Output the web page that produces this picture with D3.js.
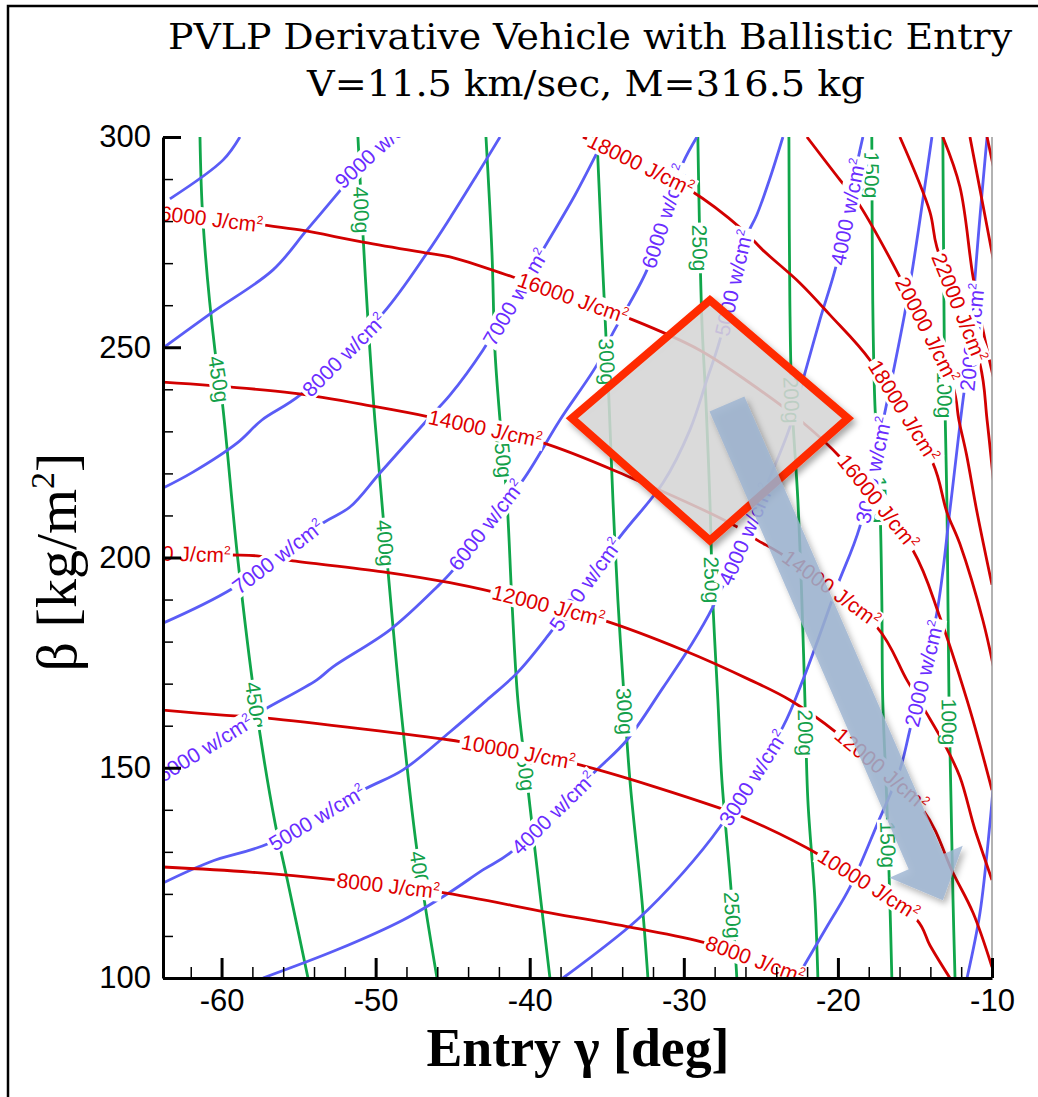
<!DOCTYPE html>
<html>
<head>
<meta charset="utf-8">
<script src="https://cdn.jsdelivr.net/npm/d3@7"></script>
<style>
  body { margin: 0; background: #fff; }
  svg { display: block; }
</style>
</head>
<body>
<svg id="chart" width="1038" height="1097"></svg>
<script>
// ---- data (gamma [deg], beta [kg/m2]) ----
var titleLines = ["PVLP Derivative Vehicle with Ballistic Entry", "V=11.5 km/sec, M=316.5 kg"];

var xMajor = [-60, -50, -40, -30, -20, -10];
var yMajor = [100, 150, 200, 250, 300];

// deceleration contours (g)
var gLevels = [450, 400, 350, 300, 250, 200, 150, 100];
var gLines = [
  [[-61.40,300],[-61.21,280.3],[-60.43,249.3],[-59.97,237.5],[-58.94,199.4],[-57.83,166.1],[-56.53,136.9],[-55.73,123.3],[-54.39,100]],
  [[-51.15,300],[-50.82,276.7],[-50.50,256.5],[-50.05,232.7],[-49.26,199.4],[-48.42,166.1],[-47.32,130.4],[-46.02,100]],
  [[-42.84,300],[-42.45,272.4],[-42.26,249.3],[-41.93,232.7],[-41.48,213.7],[-41.16,189.9],[-40.77,166.1],[-40.18,147.1],[-39.66,130.4],[-38.69,100]],
  [[-35.64,300],[-35.31,272.4],[-34.86,237.5],[-34.60,213.7],[-34.28,189.9],[-33.95,170.9],[-33.50,147.1],[-32.72,118.5],[-32.33,100]],
  [[-29.09,300],[-28.83,256.5],[-28.57,237.5],[-28.31,213.7],[-28.12,189.9],[-27.79,166.1],[-27.53,147.1],[-26.88,118.5],[-26.56,100]],
  [[-23.18,300],[-23.12,261.2],[-22.99,237.5],[-22.60,213.7],[-22.34,189.9],[-22.14,166.1],[-21.95,142.3],[-21.49,118.5],[-21.30,100]],
  [[-17.80,300],[-17.74,261.2],[-17.61,237.5],[-17.28,213.7],[-17.15,189.9],[-17.09,166.1],[-16.83,142.3],[-16.63,118.5],[-16.50,100]],
  [[-13.19,300],[-13.12,261.2],[-13.06,237.5],[-12.93,213.7],[-12.86,189.9],[-12.79,166.1],[-12.66,142.3],[-12.53,118.5],[-12.40,100]]
];
var gLabelAt = [
  [[-60.37,242.2],[-57.83,164.9]],
  [[-51.02,282.6],[-49.46,203.4],[-47.25,124.5]],
  [[-42.06,224.4],[-40.51,150.0]],
  [[-35.12,246.5],[-34.02,163.3]],
  [[-28.96,273.6],[-28.31,194.6],[-26.80,115.0]],
  [[-22.83,237.5],[-22.05,158.3]],
  [[-17.74,291.0],[-17.35,213.7],[-17.02,131.6]],
  [[-13.38,238.6],[-13.06,160.9]]
];

// peak heat flux contours (w/cm2)
var qLevels = [10000, 9000, 8000, 7000, 6000, 5000, 4000, 3000, 2000, 1000];
var qLines = [
  [[-63.35,285.3],[-59.91,294.5],[-58.81,300]],
  [[-63.80,249.8],[-60.56,258.4],[-56.66,268.4],[-54.46,277.9],[-52.12,288.1],[-50.69,294.5],[-49.07,300]],
  [[-63.80,216.5],[-61.86,220.3],[-59.00,227.2],[-57.38,232.7],[-54.91,238.6],[-49.52,258.1],[-46.67,272.4],[-45.18,280.7],[-43.56,290.2],[-41.93,300]],
  [[-63.80,184.4],[-59.26,192.7],[-53.42,208.2],[-51.67,212.0],[-49.72,220.1],[-46.48,233.4],[-45.18,238.6],[-43.04,249.3],[-38.88,274.8],[-37.06,286.2],[-35.64,296.2],[-35.12,300]],
  [[-63.80,149.0],[-61.08,154.7],[-58.35,161.4],[-57.05,164.2],[-53.81,170.9],[-52.77,174.0],[-49.07,182.8],[-46.02,193.0],[-44.98,197.0],[-42.84,207.7],[-40.44,218.4],[-38.04,232.7],[-35.64,245.8],[-34.60,253.4],[-32.39,268.4],[-31.23,281.5],[-30.06,293.8],[-29.15,300]],
  [[-63.80,122.6],[-60.75,127.6],[-56.86,132.1],[-50.82,144.7],[-48.22,149.5],[-45.18,158.5],[-42.78,166.1],[-40.83,172.5],[-38.88,181.1],[-34.15,204.9],[-31.36,217.7],[-29.61,230.3],[-28.51,242.2],[-27.66,251.7],[-26.04,275.5],[-25.26,281.5],[-24.41,290.2],[-23.57,300]],
  [[-57.31,100],[-52.51,106.7],[-48.22,113.8],[-45.18,120.4],[-43.04,125.7],[-41.29,129.7],[-35.64,149.5],[-33.69,156.6],[-31.36,169.0],[-29.61,178.7],[-28.12,188.2],[-24.41,219.1],[-23.12,231.0],[-22.27,242.2],[-21.17,256.5],[-20.07,270.0],[-18.71,294.5],[-18.38,300]],
  [[-37.84,100],[-33.04,113.8],[-30.06,125.0],[-27.66,135.9],[-23.57,159.7],[-22.27,170.9],[-21.30,180.4],[-20.07,193.0],[-18.58,207.3],[-16.96,234.4],[-15.66,258.1],[-15.14,269.1],[-13.90,300]],
  [[-22.66,100],[-20.65,112.6],[-19.22,121.6],[-17.41,136.9],[-15.98,149.5],[-15.33,159.0],[-13.58,186.8],[-12.73,211.3],[-11.88,237.5],[-11.30,252.4],[-11.11,266.0],[-10.32,300]],
  [[-11.62,100],[-10.78,115.5],[-10.13,136.9],[-9.94,144.7]]
];
var qLabelAt = [
  [],
  [[-49.80,297.1]],
  [[-52.24,248.9]],
  [[-56.34,200.1],[-40.96,261.9]],
  [[-61.21,155.2],[-42.78,207.7],[-31.23,281.0]],
  [[-53.74,138.0],[-36.41,193.5],[-26.80,265.3]],
  [[-38.49,139.2],[-26.17,205.8],[-19.35,282.2]],
  [[-25.58,147.8],[-17.80,220.8]],
  [[-14.55,172.5],[-11.30,252.4]],
  []
];

// total heat load contours (J/cm2)
var hLevels = [8000, 10000, 12000, 14000, 16000, 18000, 20000, 22000, 24000, 26000, 28000];
var hLines = [
  [[-63.80,126.4],[-58.16,125.2],[-52.51,123.3],[-45.83,120.4],[-38.69,115.5],[-33.50,112.1],[-28.51,108.3],[-22.14,100]],
  [[-63.80,163.7],[-59.91,162.5],[-57.05,161.8],[-45.18,156.6],[-44.34,156.1],[-37.19,151.1],[-27.66,140.4],[-26.17,138.3],[-21.17,129.2],[-14.87,113.8],[-14.03,107.8],[-12.73,100]],
  [[-63.80,201.1],[-59.45,200.6],[-57.70,200.4],[-55.37,199.2],[-49.52,196.6],[-45.18,194.0],[-42.39,191.8],[-35.25,185.1],[-30.06,178.0],[-25.71,170.9],[-23.12,166.1],[-20.07,158.3],[-14.48,140.0],[-12.53,125.0],[-11.23,115.5],[-10.00,102.6]],
  [[-63.80,241.7],[-55.37,239.1],[-49.92,235.8],[-46.48,233.4],[-39.34,227.5],[-33.50,219.1],[-26.56,207.3],[-25.26,204.2],[-23.57,200.6],[-17.48,183.5],[-15.53,170.9],[-14.36,163.7],[-13.06,155.4],[-12.08,147.8],[-11.10,135.2],[-10.00,123.3]],
  [[-63.80,281.9],[-57.38,279.1],[-54.91,277.9],[-50.82,275.0],[-46.67,272.4],[-45.18,271.5],[-41.09,266.7],[-33.30,256.5],[-28.96,249.3],[-25.71,241.5],[-22.47,232.7],[-19.87,223.9],[-15.14,201.8],[-13.38,185.8],[-11.62,166.1],[-10.78,155.4],[-10.00,144.7]],
  [[-36.55,300],[-29.61,287.4],[-26.17,277.9],[-24.87,273.1],[-22.47,265.3],[-20.52,257.7],[-17.93,247.0],[-13.84,222.5],[-12.93,210.8],[-12.08,203.2],[-10.58,184.9],[-9.80,172.1]],
  [[-22.01,300],[-19.87,289.8],[-18.77,284.8],[-15.98,266.7],[-12.54,240.8],[-12.15,232.7],[-11.65,224.4],[-11.00,211.3],[-10.00,193.5]],
  [[-15.98,300],[-14.03,282.2],[-13.58,273.8],[-10.78,246.0],[-10.32,232.7],[-9.87,216.8]],
  [[-13.19,300],[-12.08,288.1],[-11.23,266.7],[-10.45,251.7],[-9.87,242.2]],
  [[-11.43,300],[-10.65,285.0],[-9.87,270.0]],
  [[-10.32,300],[-9.80,291.0]]
];
var hLabelAt = [
  [[-49.20,121.9],[-25.32,104.8]],
  [[-40.77,153.7],[-18.05,121.9]],
  [[-63.15,200.8],[-38.80,188.5],[-17.28,149.2]],
  [[-42.91,230.6],[-20.52,192.3]],
  [[-61.01,280.5],[-37.19,261.7],[-17.48,213.0]],
  [[-32.85,293.3],[-15.85,234.6]],
  [[-14.30,253.9]],
  [[-12.04,259.6]],
  [], [], []
];

// design box and trend arrow
var boxCorners = [[-28.31,261.2],[-19.35,233.1],[-28.31,204.05],[-37.27,233.1]];
var arrowFrom = [-27.20,236.5];
var arrowTo = [-13.19,118.5];

// ---- drawing ----
var svg = d3.select("#chart");
var pL = 163, pR = 992, pT = 137, pB = 978;

var x = d3.scaleLinear().domain([-63.8, -10]).range([pL, pR]);
var y = d3.scaleLinear().domain([100, 300]).range([pB, pT]);

var sans = '"Liberation Sans", Arial, Helvetica, sans-serif';
var serif = '"Liberation Serif", "Times New Roman", serif';

var defs = svg.append("defs");
defs.append("clipPath").attr("id", "plotClip")
  .append("rect").attr("x", pL).attr("y", pT)
  .attr("width", pR - pL).attr("height", pB - pT);
var shadow = defs.append("filter").attr("id", "shadow")
  .attr("x", "-20%").attr("y", "-20%").attr("width", "150%").attr("height", "150%");
shadow.append("feDropShadow").attr("dx", 3).attr("dy", 4)
  .attr("stdDeviation", 3).attr("flood-color", "#000").attr("flood-opacity", 0.35);

// outer frame (right and bottom edges fall outside the page)
svg.append("rect").attr("x", 8).attr("y", 6).attr("width", 1060).attr("height", 1200)
  .attr("fill", "none").attr("stroke", "#000").attr("stroke-width", 2.5);

// title
svg.append("text").attr("x", 590).attr("y", 49).attr("text-anchor", "middle")
  .style("font-family", '"DejaVu Serif Condensed", "DejaVu Serif", serif')
  .style("font-size", "35px")
  .attr("textLength", 844).attr("lengthAdjust", "spacingAndGlyphs")
  .text(titleLines[0]);
svg.append("text").attr("x", 586).attr("y", 96).attr("text-anchor", "middle")
  .style("font-family", '"DejaVu Serif Condensed", "DejaVu Serif", serif')
  .style("font-size", "35px")
  .attr("textLength", 558).attr("lengthAdjust", "spacingAndGlyphs")
  .text(titleLines[1]);

var linesLayer = svg.append("g").attr("clip-path", "url(#plotClip)");
var labelLayer = svg.append("g").attr("clip-path", "url(#plotClip)");

var line = d3.line()
  .x(d => x(d[0]))
  .y(d => y(d[1]))
  .curve(d3.curveCatmullRom.alpha(0.5));

function family(lines, color) {
  return lines.map(pts => linesLayer.append("path")
    .attr("d", line(pts))
    .attr("fill", "none")
    .attr("stroke", color)
    .attr("stroke-width", 2.8)
    .attr("stroke-linejoin", "round")
    .node());
}

var gPaths = family(gLines, "#10a64a");
var qPaths = family(qLines, "#5a5cf6");
var hPaths = family(hLines, "#d20000");

// labels sit on their line, turned with it, on a white box
function labels(paths, spots, texts, color, sup) {
  paths.forEach((node, i) => {
    if (!spots[i].length) return;
    var len = node.getTotalLength();
    var samples = d3.range(0, len, 1).map(l => {
      var p = node.getPointAtLength(l);
      return [l, p.x, p.y];
    });
    spots[i].forEach(s => {
      var px = x(s[0]), py = y(s[1]);
      var best = d3.least(samples, d => (d[1] - px) ** 2 + (d[2] - py) ** 2);
      var a = node.getPointAtLength(Math.max(0, best[0] - 8));
      var b = node.getPointAtLength(Math.min(len, best[0] + 8));
      var ang = Math.atan2(b.y - a.y, b.x - a.x) * 180 / Math.PI;
      if (ang > 91) ang -= 180;
      if (ang < -91) ang += 180;

      var g = labelLayer.append("g")
        .attr("transform", `translate(${best[1]},${best[2]}) rotate(${ang})`);
      var bg = g.append("rect").attr("fill", "#fff");
      var t = g.append("text")
        .attr("text-anchor", "middle")
        .attr("dy", "0.36em")
        .attr("fill", color)
        .style("font-family", sans)
        .style("font-size", "21px");
      t.append("tspan").text(texts[i]);
      if (sup) t.append("tspan").attr("font-size", 12).attr("dy", -8).text("2");
      var bb = t.node().getBBox();
      bg.attr("x", bb.x - 2).attr("y", bb.y + 1)
        .attr("width", bb.width + 4).attr("height", bb.height - 2);
    });
  });
}

labels(gPaths, gLabelAt, gLevels.map(v => v + "g"), "#13a04a", false);
labels(qPaths, qLabelAt, qLevels.map(v => v + " w/cm"), "#6a2cff", true);
labels(hPaths, hLabelAt, hLevels.map(v => v + " J/cm"), "#dd0000", true);

// design box
var boxLayer = svg.append("g");
boxLayer.append("polygon")
  .attr("points", boxCorners.map(d => [x(d[0]), y(d[1])].join(",")).join(" "))
  .attr("fill", "#dadada").attr("fill-opacity", 0.82)
  .attr("stroke", "#ff2a00").attr("stroke-width", 8)
  .attr("stroke-linejoin", "miter")
  .attr("filter", "url(#shadow)");

// arrow
var p0 = [x(arrowFrom[0]), y(arrowFrom[1])];
var p1 = [x(arrowTo[0]), y(arrowTo[1])];
var dx = p1[0] - p0[0], dy = p1[1] - p0[1];
var L = Math.hypot(dx, dy), ux = dx / L, uy = dy / L, nx = -uy, ny = ux;
var headLen = 42, shaftW = 38, headW = 80;
var bx = p1[0] - ux * headLen, by = p1[1] - uy * headLen;
var arrowPts = [
  [p0[0] + nx * shaftW / 2, p0[1] + ny * shaftW / 2],
  [bx + nx * shaftW / 2, by + ny * shaftW / 2],
  [bx + nx * headW / 2, by + ny * headW / 2],
  p1,
  [bx - nx * headW / 2, by - ny * headW / 2],
  [bx - nx * shaftW / 2, by - ny * shaftW / 2],
  [p0[0] - nx * shaftW / 2, p0[1] - ny * shaftW / 2]
];
boxLayer.append("polygon")
  .attr("points", arrowPts.map(d => d.join(",")).join(" "))
  .attr("fill", "#9db4d2").attr("fill-opacity", 0.82)
  .attr("filter", "url(#shadow)");

// axes
var yMinor = d3.range(100, 301, 10).filter(v => v % 50);
var xMinor = d3.range(-62, -10, 2).filter(v => v % 10);

svg.append("line").attr("x1", pR).attr("x2", pR).attr("y1", pT).attr("y2", pB)
  .attr("stroke", "#999").attr("stroke-width", 1.5);

var xMinorAxis = svg.append("g").attr("transform", `translate(0,${pB})`)
  .call(d3.axisBottom(x).tickValues(xMinor).tickSize(-11).tickFormat(""));
xMinorAxis.select(".domain").remove();
xMinorAxis.selectAll("line").attr("stroke-width", 1.5);

var xAxis = svg.append("g").attr("transform", `translate(0,${pB})`)
  .call(d3.axisBottom(x).tickValues(xMajor).tickSize(-20).tickSizeOuter(0).tickPadding(11)
    .tickFormat(d => String(d)));
xAxis.select(".domain").attr("stroke-width", 3);
xAxis.selectAll("line").attr("stroke-width", 3);
xAxis.selectAll("text").style("font-family", sans).style("font-size", "31px");

var yMinorAxis = svg.append("g").attr("transform", `translate(${pL},0)`)
  .call(d3.axisLeft(y).tickValues(yMinor).tickSize(-10).tickFormat(""));
yMinorAxis.select(".domain").remove();
yMinorAxis.selectAll("line").attr("stroke-width", 1.5);

var yAxis = svg.append("g").attr("transform", `translate(${pL},0)`)
  .call(d3.axisLeft(y).tickValues(yMajor).tickSize(-18).tickSizeOuter(0).tickPadding(12)
    .tickFormat(d => String(d)));
yAxis.select(".domain").attr("stroke-width", 3);
yAxis.selectAll("line").attr("stroke-width", 3);
yAxis.selectAll("text").style("font-family", sans).style("font-size", "31px");

// axis titles
var yTitle = svg.append("text")
  .attr("transform", "translate(76,562) rotate(-90)")
  .attr("text-anchor", "middle")
  .style("font-family", serif)
  .style("font-size", "58px");
yTitle.append("tspan").text("\u03b2 [kg/m");
yTitle.append("tspan").attr("font-size", 34).attr("dy", -22).text("2");
yTitle.append("tspan").attr("dy", 22).text("]");

svg.append("text")
  .attr("x", 578).attr("y", 1066)
  .attr("text-anchor", "middle")
  .style("font-family", serif)
  .style("font-weight", "bold")
  .style("font-size", "54px")
  .attr("textLength", 303).attr("lengthAdjust", "spacingAndGlyphs")
  .text("Entry \u03b3 [deg]");
</script>
</body>
</html>
